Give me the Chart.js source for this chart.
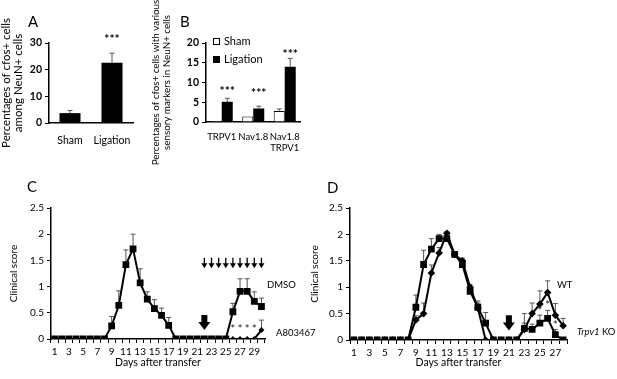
<!DOCTYPE html>
<html>
<head>
<meta charset="utf-8">
<script src="https://cdn.jsdelivr.net/npm/chart.js@4.4.0/dist/chart.umd.min.js"></script>
<style>
  body { margin: 0; background: #fff; width: 617px; height: 379px; overflow: hidden; position: relative; }
  canvas { position: absolute; }
</style>
</head>
<body>
<canvas id="chartA" width="150" height="160" style="left:0;top:0;width:150px;height:160px"></canvas>
<canvas id="chartB" width="160" height="170" style="left:150px;top:0;width:160px;height:170px"></canvas>
<canvas id="chartC" width="320" height="204" style="left:0;top:175px;width:320px;height:204px"></canvas>
<canvas id="chartD" width="317" height="204" style="left:300px;top:175px;width:317px;height:204px"></canvas>
<script>
const FONT = "Lato, 'Liberation Sans', sans-serif";

// Panel A
const aLabels = ["Sham", "Ligation"];
const aValues = [3.7, 22.6];
const aErrors = [1.0, 3.6];
const aStarLevel = [null, 31.5];

// Panel B
const bLabels = ["TRPV1", "Nav1.8", ["Nav1.8", "TRPV1"]];
const bSham = [0.25, 1.4, 2.8];
const bShamErr = [0, 0, 0.5];
const bLigation = [5.1, 3.4, 14.0];
const bLigationErr = [0.9, 0.6, 2.1];
const bStarLevel = [7.8, 7.4, 17.2];

// Panel C
const cDays = ["1","2","3","4","5","6","7","8","9","10","11","12","13","14","15",
  "16","17","18","19","20","21","22","23","24","25","26","27","28","29","30"];
const cDmso = [0,0,0,0,0,0,0,0,0.25,0.64,1.42,1.72,1.07,0.76,0.58,0.45,0.26,
  0,0,0,0,0,0,0,0,0.52,0.91,0.91,0.72,0.62];
const cDmsoErr = [0,0,0,0,0,0,0,0,0.18,0.28,0.28,0.28,0.27,0.14,0.17,0.14,0.15,
  0,0,0,0,0,0,0,0,0.16,0.24,0.24,0.18,0.16];
const cA803467 = [null,null,null,null,null,null,null,null,null,null,null,null,null,null,null,
  null,null,null,null,null,null,0,0,0,0,0,0,0,0,0.17];
const cA803467Err = [0,0,0,0,0,0,0,0,0,0,0,0,0,0,0,0,0,0,0,0,0,0,0,0,0,0,0,0,0,0.19];
const cInjectionDays = [22, 23, 24, 25, 26, 27, 28, 29, 30];
const cBigArrowDay = 22;
const cStarDays = [26, 27, 28, 29];
const cStarLevel = 0.19;

// Panel D
const dDays = ["1","2","3","4","5","6","7","8","9","10","11","12","13","14","15",
  "16","17","18","19","20","21","22","23","24","25","26","27","28"];
const dKo = [0,0,0,0,0,0,0,0,0.62,1.43,1.72,1.92,1.92,1.62,1.43,0.92,0.62,0.32,
  0,0,0,0,0.22,0.2,0.32,0.41,0.1,0];
const dKoErr = [0,0,0,0,0,0,0,0,0.23,0.27,0.2,0.08,0.05,0.05,0.05,0.08,0.12,0.2,
  0,0,0,0,0.1,0.1,0.15,0.15,0.1,0];
const dWt = [0,0,0,0,0,0,0,0,0.38,0.5,1.27,1.65,2.02,1.62,1.5,1.0,0.6,0,
  0,0,0,0,0.2,0.5,0.68,0.9,0.47,0.27];
const dWtErr = [0,0,0,0,0,0,0,0,0.08,0.2,0.15,0.1,0.03,0.05,0.05,0.05,0.1,0,
  0,0,0,0,0.3,0.2,0.25,0.22,0.22,0.14];
const dBigArrowDay = 21;
const dStarDays = [25, 26, 27];
const dStarLevel = [0.54, 0.66, 0.28];

// dibuja flecha vertical
function drawArrow(ctx, x, yTop, yTip, shaft, head, headLen) {
  ctx.beginPath();
  ctx.moveTo(x - shaft / 2, yTop);
  ctx.lineTo(x + shaft / 2, yTop);
  ctx.lineTo(x + shaft / 2, yTip - headLen);
  ctx.lineTo(x + head / 2, yTip - headLen);
  ctx.lineTo(x, yTip);
  ctx.lineTo(x - head / 2, yTip - headLen);
  ctx.lineTo(x - shaft / 2, yTip - headLen);
  ctx.closePath();
  ctx.fill();
}

// barras de error, asteriscos, flechas y textos sueltos
const extrasPlugin = {
  id: "extras",
  beforeDatasetsDraw(chart, args, opts) {
    const ctx = chart.ctx;
    const y = chart.scales.y;
    (opts.errorBars || []).forEach(eb => {
      const meta = chart.getDatasetMeta(eb.dataset);
      const vals = chart.data.datasets[eb.dataset].data;
      ctx.save();
      ctx.strokeStyle = "#555";
      ctx.lineWidth = 1;
      meta.data.forEach((el, i) => {
        const e = eb.errors[i];
        if (!e || vals[i] == null) return;
        const top = y.getPixelForValue(vals[i] + e);
        ctx.beginPath();
        ctx.moveTo(el.x, el.y);
        ctx.lineTo(el.x, top);
        ctx.moveTo(el.x - (eb.cap || 2.5), top);
        ctx.lineTo(el.x + (eb.cap || 2.5), top);
        ctx.stroke();
      });
      ctx.restore();
    });
  },
  afterDatasetsDraw(chart, args, opts) {
    const ctx = chart.ctx;
    const x = chart.scales.x;
    const y = chart.scales.y;
    ctx.save();
    ctx.fillStyle = "#000";
    (opts.arrows || []).forEach(a => {
      a.days.forEach(d => {
        drawArrow(ctx, x.getPixelForValue(d - 1), y.getPixelForValue(a.top),
          y.getPixelForValue(a.tip), a.shaft, a.head, a.headLen);
      });
    });
    (opts.stars || []).forEach(s => {
      ctx.font = `${s.weight || "normal"} ${s.size || 11}px ${FONT}`;
      ctx.fillStyle = s.color || "#222";
      ctx.textAlign = "center";
      ctx.textBaseline = "middle";
      s.indices.forEach((idx, k) => {
        const lvl = Array.isArray(s.levels) ? s.levels[k] : s.levels;
        if (lvl == null) return;
        const px = s.dataset != null ? chart.getDatasetMeta(s.dataset).data[idx].x : x.getPixelForValue(idx);
        ctx.fillText(s.text, px, y.getPixelForValue(lvl));
      });
    });
    (opts.texts || []).forEach(t => {
      ctx.fillStyle = "#000";
      ctx.textBaseline = "middle";
      ctx.textAlign = "left";
      let px = t.x;
      (t.parts || [{ text: t.text }]).forEach(p => {
        ctx.font = `${p.style || "normal"} ${t.weight || "normal"} ${t.size || 10}px ${FONT}`;
        ctx.fillText(p.text, px, t.y);
        px += ctx.measureText(p.text).width;
      });
    });
    (opts.legend || []).forEach(l => {
      ctx.fillStyle = l.fill;
      ctx.fillRect(l.x, l.y, 7, 7);
      ctx.strokeStyle = "#000";
      ctx.lineWidth = 1;
      ctx.strokeRect(l.x + 0.5, l.y + 0.5, 6, 6);
      ctx.fillStyle = "#000";
      ctx.font = `11px ${FONT}`;
      ctx.textAlign = "left";
      ctx.textBaseline = "middle";
      ctx.fillText(l.text, l.x + 11, l.y + 3.5);
    });
    ctx.restore();
  }
};

Chart.register(extrasPlugin);
Chart.defaults.font.family = FONT;
Chart.defaults.color = "#000";
Chart.defaults.animation = false;
Chart.defaults.responsive = false;
Chart.defaults.plugins.legend.display = false;
Chart.defaults.plugins.tooltip.enabled = false;

function valueAxis(max, step, width, title, titleFont, titlePad, bold) {
  return {
    min: 0,
    max: max,
    ticks: {
      stepSize: step, padding: 3,
      font: { size: bold ? 10.5 : 10, weight: bold ? "bold" : "normal" },
      callback: v => String(v)
    },
    grid: { drawOnChartArea: false, tickLength: 4, color: "#000" },
    border: { color: "#000", width: 1.5 },
    title: { display: true, text: title, font: titleFont, padding: { top: titlePad, bottom: 0 } },
    afterFit: s => { s.width = width; }
  };
}

function groupAxis(height, pad, size) {
  return {
    grid: { display: false, drawTicks: false },
    border: { color: "#000", width: 1.5 },
    ticks: { autoSkip: false, maxRotation: 0, minRotation: 0, padding: pad, font: { size: size } },
    afterFit: s => { s.height = height; }
  };
}

// A
new Chart(document.getElementById("chartA"), {
  type: "bar",
  data: {
    labels: aLabels,
    datasets: [{ data: aValues, backgroundColor: "#000", barPercentage: 0.5, categoryPercentage: 1 }]
  },
  options: {
    layout: { padding: { top: 43, right: 17, left: 0, bottom: 0 } },
    scales: {
      x: groupAxis(37, 11, 10.5),
      y: valueAxis(30, 10, 49, ["Percentages of cfos+ cells", "among NeuN+ cells"],
        { size: 11.5, lineHeight: 1.0 }, 1, true)
    },
    plugins: {
      extras: {
        errorBars: [{ dataset: 0, errors: aErrors }],
        stars: [{ text: "***", indices: [0, 1], levels: aStarLevel, size: 12, weight: "bold", color: "#000" }],
        texts: [{ text: "A", x: 28, y: 22, size: 15 }]
      }
    }
  }
});

// B
new Chart(document.getElementById("chartB"), {
  type: "bar",
  data: {
    labels: bLabels,
    datasets: [
      { label: "Sham", data: bSham, backgroundColor: "#fff", borderColor: "#000", borderWidth: 1,
        barPercentage: 1, categoryPercentage: 0.7 },
      { label: "Ligation", data: bLigation, backgroundColor: "#000",
        barPercentage: 1, categoryPercentage: 0.7 }
    ]
  },
  options: {
    layout: { padding: { top: 43, right: 8, left: 0, bottom: 0 } },
    scales: {
      x: groupAxis(48, 9, 9.5),
      y: valueAxis(20, 5, 56, ["Percentages of cfos+ cells with various", "sensory markers in NeuN+ cells"],
        { size: 9.8, lineHeight: 1.15 }, 0, true)
    },
    plugins: {
      extras: {
        errorBars: [{ dataset: 0, errors: bShamErr }, { dataset: 1, errors: bLigationErr }],
        stars: [{ text: "***", dataset: 1, indices: [0, 1, 2], levels: bStarLevel, size: 12, weight: "bold", color: "#000" }],
        texts: [{ text: "B", x: 30, y: 22, size: 15 }],
        legend: [{ text: "Sham", fill: "#fff", x: 63, y: 38 }, { text: "Ligation", fill: "#000", x: 63, y: 56 }]
      }
    }
  }
});

function dayAxis(labels, height) {
  return {
    type: "category",
    offset: true,
    grid: { offset: true, drawOnChartArea: false, tickLength: 4, color: "#000" },
    border: { color: "#000", width: 1.5 },
    ticks: {
      autoSkip: false, maxRotation: 0, padding: 3, font: { size: 10 },
      callback: (v, i) => (i % 2 === 0 ? labels[i] : "")
    },
    title: { display: true, text: "Days after transfer", font: { size: 10.5 }, padding: { top: 0, bottom: 10 } },
    afterFit: s => { s.height = height; }
  };
}

function lineSet(label, data, style, radius) {
  return {
    label: label, data: data, borderColor: "#000", borderWidth: 2, tension: 0,
    pointStyle: style, pointRadius: radius, pointBackgroundColor: "#000",
    pointBorderColor: "#000", pointBorderWidth: 0
  };
}

// C
new Chart(document.getElementById("chartC"), {
  type: "line",
  data: {
    labels: cDays,
    datasets: [lineSet("DMSO", cDmso, "rect", 4.8), lineSet("A803467", cA803467, "rectRot", 3)]
  },
  options: {
    layout: { padding: { top: 33, right: 55, left: 0, bottom: 0 } },
    scales: {
      x: dayAxis(cDays, 40),
      y: valueAxis(2.5, 0.5, 51, "Clinical score", { size: 10 }, 8, false)
    },
    plugins: {
      extras: {
        errorBars: [{ dataset: 0, errors: cDmsoErr }, { dataset: 1, errors: cA803467Err }],
        arrows: [
          { days: cInjectionDays, top: 1.55, tip: 1.35, shaft: 1.3, head: 6, headLen: 5 },
          { days: [cBigArrowDay], top: 0.46, tip: 0.17, shaft: 6, head: 12, headLen: 8 }
        ],
        stars: [{ text: "*", indices: cStarDays.map(d => d - 1), levels: cStarLevel, size: 11 }],
        texts: [
          { text: "C", x: 27, y: 12, size: 15 },
          { text: "DMSO", x: 267, y: 110, size: 9.5 },
          { text: "A803467", x: 276, y: 158, size: 9.5 }
        ]
      }
    }
  }
});

// D
new Chart(document.getElementById("chartD"), {
  type: "line",
  data: {
    labels: dDays,
    datasets: [lineSet("Trpv1 KO", dKo, "rect", 4.8), lineSet("WT", dWt, "rectRot", 3.8)]
  },
  options: {
    layout: { padding: { top: 33, right: 50, left: 0, bottom: 0 } },
    scales: {
      x: dayAxis(dDays, 39),
      y: valueAxis(2.5, 0.5, 50, "Clinical score", { size: 10 }, 9, false)
    },
    plugins: {
      extras: {
        errorBars: [{ dataset: 0, errors: dKoErr }, { dataset: 1, errors: dWtErr }],
        arrows: [{ days: [dBigArrowDay], top: 0.47, tip: 0.18, shaft: 6, head: 12, headLen: 8 }],
        stars: [{ text: "*", indices: dStarDays.map(d => d - 1), levels: dStarLevel, size: 11 }],
        texts: [
          { text: "D", x: 27, y: 13, size: 15 },
          { text: "WT", x: 257, y: 110, size: 9.5 },
          { x: 277, y: 157, size: 9.5, parts: [{ text: "Trpv1", style: "italic" }, { text: " KO" }] }
        ]
      }
    }
  }
});
</script>
</body>
</html>
